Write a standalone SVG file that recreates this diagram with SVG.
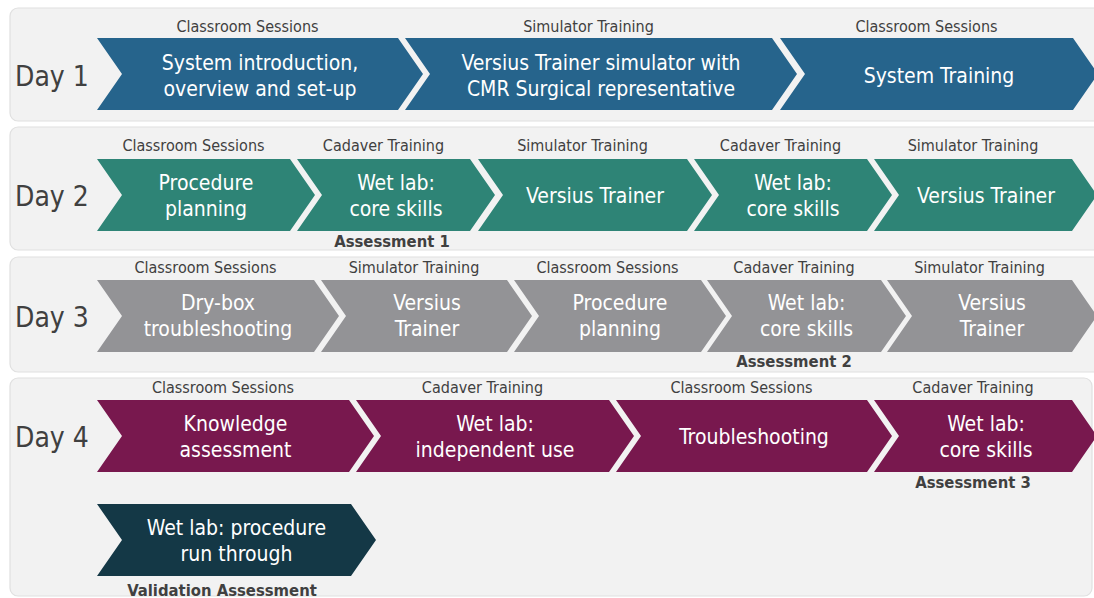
<svg xmlns="http://www.w3.org/2000/svg" width="1094" height="598" viewBox="0 0 1094 598">
<style>
.panel{fill:#f2f2f2;stroke:#e0e0e0;stroke-width:1.2}
.c1{fill:#26648c}.c2{fill:#2e8476}.c3{fill:#939396}.c4{fill:#78184e}.c5{fill:#143846}
.t{font-family:"DejaVu Sans Condensed","DejaVu Sans",sans-serif;fill:#ffffff;font-size:21px;text-anchor:middle}
.lab{font-family:"DejaVu Sans Condensed","DejaVu Sans",sans-serif;fill:#404040;font-size:16px;text-anchor:middle}
.day{font-family:"DejaVu Sans Condensed","DejaVu Sans",sans-serif;fill:#404040;font-size:28px}
.as{font-family:"DejaVu Sans Condensed","DejaVu Sans",sans-serif;fill:#404040;font-size:16.5px;font-weight:bold;text-anchor:middle}
</style>
<g id="panels">
<rect class="panel" x="10" y="8" width="1096" height="113" rx="8"/>
<rect class="panel" x="10" y="127" width="1096" height="123" rx="8"/>
<rect class="panel" x="10" y="257" width="1096" height="115" rx="8"/>
<rect class="panel" x="10" y="378" width="1082" height="218" rx="8"/>
</g>
<g id="day-labels">
<text class="day" x="15" y="86">Day 1</text>
<text class="day" x="15" y="206">Day 2</text>
<text class="day" x="15" y="327">Day 3</text>
<text class="day" x="15" y="447">Day 4</text>
</g>
<g id="connectors"></g>
<!-- Day 1 -->
<g id="d1n1"><polygon class="c1" points="97,38 398,38 423,74 398,110 97,110 122,74"/><text class="lab" x="247.5" y="32">Classroom Sessions</text><text class="t" x="260" y="70">System introduction,</text><text class="t" x="260" y="96">overview and set-up</text></g>
<g id="d1n2"><polygon class="c1" points="405,38 772,38 797,74 772,110 405,110 430,74"/><text class="lab" x="588.5" y="32">Simulator Training</text><text class="t" x="601" y="70">Versius Trainer simulator with</text><text class="t" x="601" y="96">CMR Surgical representative</text></g>
<g id="d1n3"><polygon class="c1" points="780,38 1073,38 1098,74 1073,110 780,110 805,74"/><text class="lab" x="926.5" y="32">Classroom Sessions</text><text class="t" x="939" y="83">System Training</text></g>
<!-- Day 2 -->
<g id="d2n1"><polygon class="c2" points="97,159 290,159 315,195 290,231 97,231 122,195"/><text class="lab" x="193.5" y="151">Classroom Sessions</text><text class="t" x="206" y="190">Procedure</text><text class="t" x="206" y="216">planning</text></g>
<g id="d2n2"><polygon class="c2" points="297,159 470,159 495,195 470,231 297,231 322,195"/><text class="lab" x="383.5" y="151">Cadaver Training</text><text class="t" x="396" y="190">Wet lab:</text><text class="t" x="396" y="216">core skills</text><text class="as" x="392" y="247">Assessment 1</text></g>
<g id="d2n3"><polygon class="c2" points="478,159 687,159 712,195 687,231 478,231 503,195"/><text class="lab" x="582.5" y="151">Simulator Training</text><text class="t" x="595" y="203">Versius Trainer</text></g>
<g id="d2n4"><polygon class="c2" points="694,159 867,159 892,195 867,231 694,231 719,195"/><text class="lab" x="780.5" y="151">Cadaver Training</text><text class="t" x="793" y="190">Wet lab:</text><text class="t" x="793" y="216">core skills</text></g>
<g id="d2n5"><polygon class="c2" points="874,159 1072,159 1097,195 1072,231 874,231 899,195"/><text class="lab" x="973" y="151">Simulator Training</text><text class="t" x="986" y="203">Versius Trainer</text></g>
<!-- Day 3 -->
<g id="d3n1"><polygon class="c3" points="97,280 314,280 339,316 314,352 97,352 122,316"/><text class="lab" x="205.5" y="273">Classroom Sessions</text><text class="t" x="218" y="310">Dry-box</text><text class="t" x="218" y="336">troubleshooting</text></g>
<g id="d3n2"><polygon class="c3" points="321,280 507,280 532,316 507,352 321,352 346,316"/><text class="lab" x="414" y="273">Simulator Training</text><text class="t" x="427" y="310">Versius</text><text class="t" x="427" y="336">Trainer</text></g>
<g id="d3n3"><polygon class="c3" points="514,280 701,280 726,316 701,352 514,352 539,316"/><text class="lab" x="607.5" y="273">Classroom Sessions</text><text class="t" x="620" y="310">Procedure</text><text class="t" x="620" y="336">planning</text></g>
<g id="d3n4"><polygon class="c3" points="707,280 881,280 906,316 881,352 707,352 732,316"/><text class="lab" x="794" y="273">Cadaver Training</text><text class="t" x="806.5" y="310">Wet lab:</text><text class="t" x="806.5" y="336">core skills</text><text class="as" x="794" y="367">Assessment 2</text></g>
<g id="d3n5"><polygon class="c3" points="887,280 1072,280 1097,316 1072,352 887,352 912,316"/><text class="lab" x="979.5" y="273">Simulator Training</text><text class="t" x="992" y="310">Versius</text><text class="t" x="992" y="336">Trainer</text></g>
<!-- Day 4 -->
<g id="d4n1"><polygon class="c4" points="97,400 349,400 374,436 349,472 97,472 122,436"/><text class="lab" x="223" y="393">Classroom Sessions</text><text class="t" x="235.5" y="431">Knowledge</text><text class="t" x="235.5" y="457">assessment</text></g>
<g id="d4n2"><polygon class="c4" points="356,400 609,400 634,436 609,472 356,472 381,436"/><text class="lab" x="482.5" y="393">Cadaver Training</text><text class="t" x="495" y="431">Wet lab:</text><text class="t" x="495" y="457">independent use</text></g>
<g id="d4n3"><polygon class="c4" points="616,400 867,400 892,436 867,472 616,472 641,436"/><text class="lab" x="741.5" y="393">Classroom Sessions</text><text class="t" x="754" y="444">Troubleshooting</text></g>
<g id="d4n4"><polygon class="c4" points="874,400 1072,400 1097,436 1072,472 874,472 899,436"/><text class="lab" x="973" y="393">Cadaver Training</text><text class="t" x="986" y="431">Wet lab:</text><text class="t" x="986" y="457">core skills</text><text class="as" x="973" y="488">Assessment 3</text></g>
<g id="d4n5"><polygon class="c5" points="97,504 351,504 376,540 351,576 97,576 122,540"/><text class="t" x="236.5" y="535">Wet lab: procedure</text><text class="t" x="236.5" y="561">run through</text><text class="as" x="222" y="596">Validation Assessment</text></g>
</svg>
